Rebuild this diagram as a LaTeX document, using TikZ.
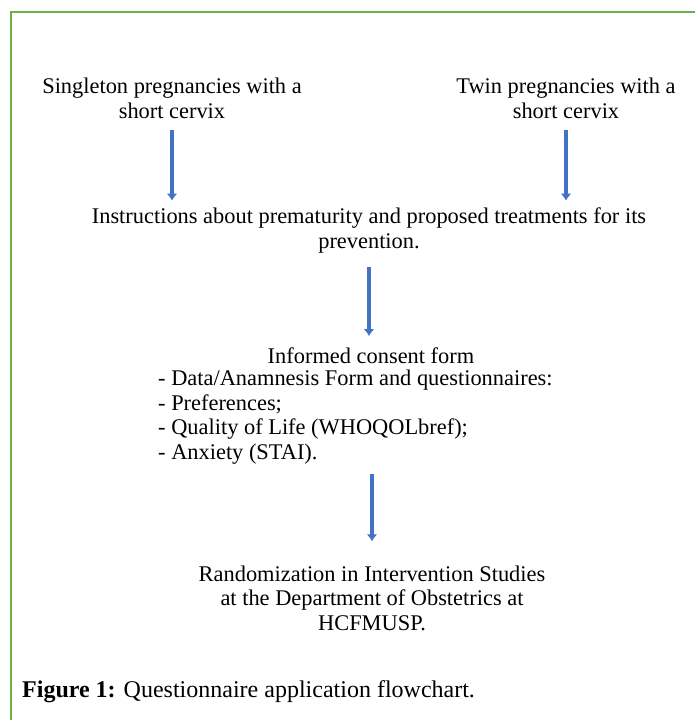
\documentclass[tikz,border=0pt]{standalone}
\usepackage{fontspec}
\setmainfont{Liberation Serif}
\usetikzlibrary{arrows.meta,positioning}

\definecolor{frameGreen}{RGB}{112,173,71}
\definecolor{arrowBlue}{RGB}{68,114,196}

\begin{document}
\begin{tikzpicture}[
  x=1pt, y=-1pt,
  txt/.style={font=\fontsize{22.4}{24.5}\selectfont, align=center, inner sep=0pt, anchor=base},
  flow/.style={arrowBlue, line width=4pt, -{Latex[length=7pt,width=11pt]},
    shorten <=12pt, shorten >=7pt}
]
  \useasboundingbox (0,0) rectangle (695,720);

  % Rahmen
  \draw[frameGreen, line width=1.2pt] (11,730) -- (11,12) -- (705,12);

  % Eingangsgruppen (base = letzte Zeile)
  \node[txt] (single) at (172,118) {Singleton pregnancies with a\\short cervix};
  \node[txt] (twin) at (566,118) {Twin pregnancies with a\\short cervix};

  % Schritte
  \node[txt] (instr) at (369,248)
    {Instructions about prematurity and proposed treatments for its\\prevention.};
  \node[txt] (consent) at (371,363) {Informed consent form};
  \node[txt, align=left, anchor=base west] (forms) at (158,459)
    {- Data/Anamnesis Form and questionnaires:\\- Preferences;\\- Quality of Life (WHOQOLbref);\\- Anxiety (STAI).};
  \node[txt] (random) at (372,630)
    {Randomization in Intervention Studies\\at the Department of Obstetrics at\\HCFMUSP.};

  % Pfeile
  \draw[flow] (single.south) -- (single.south |- instr.north);
  \draw[flow] (twin.south) -- (twin.south |- instr.north);
  \draw[flow, shorten <=14pt, shorten >=11pt] (instr.south) -- (instr.south |- consent.north);
  \draw[flow, shorten <=10pt, shorten >=24pt] (random.north |- forms.south) -- (random.north);

  % Bildunterschrift
  \node[font=\fontsize{24}{28}\selectfont, anchor=base west, inner sep=0pt] (caption) at (22,697)
    {\textbf{Figure 1:} Questionnaire application flowchart.};
\end{tikzpicture}
\end{document}
